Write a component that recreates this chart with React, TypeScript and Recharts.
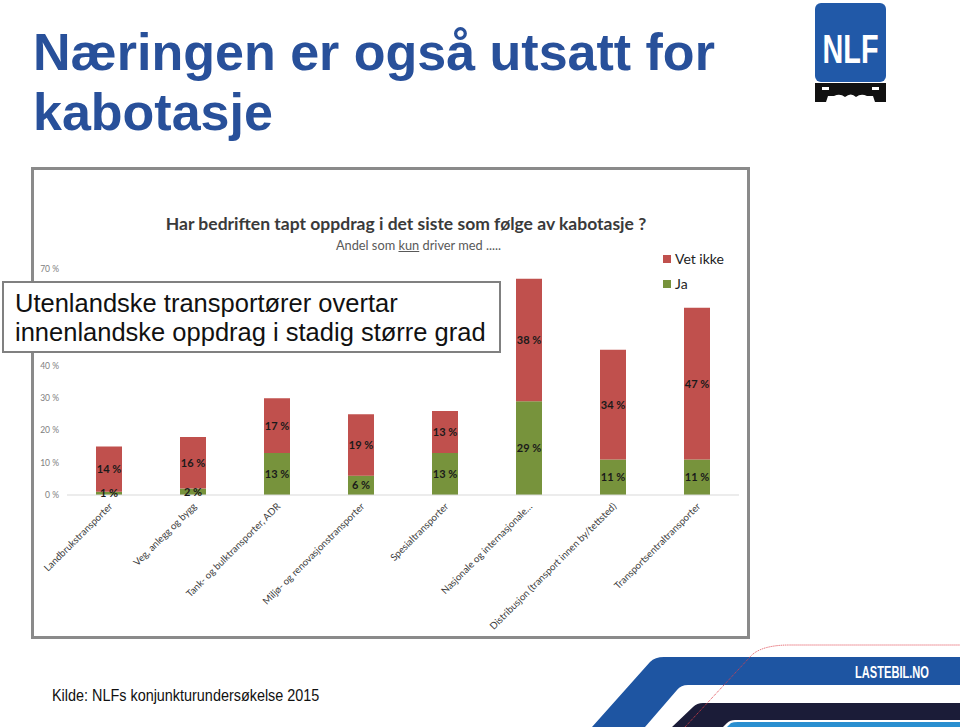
import { BarChart, Bar, XAxis, YAxis, Legend, LabelList } from 'recharts'

const categories = [
  'Landbrukstransporter',
  'Veg, anlegg og bygg',
  'Tank- og bulktransporter, ADR',
  'Miljø- og renovasjonstransporter',
  'Spesialtransporter',
  'Nasjonale og internasjonale…',
  'Distribusjon (transport innen by/tettsted)',
  'Transportsentraltransporter',
]
const ja = [1, 2, 13, 6, 13, 29, 11, 11]
const vetIkke = [14, 16, 17, 19, 13, 38, 34, 47]
// 50 % and 60 % sit behind the text box in the original, so only these show
const yTicks = [0, 10, 20, 30, 40, 70]

const data = categories.map((name, i) => ({ name, ja: ja[i], vetIkke: vetIkke[i] }))

const RED = '#C0504D'
const GREEN = '#77933C'
const CAL = 'Lato, "Open Sans", sans-serif'

const XTick = ({ x, y, payload }: any) => (
  <g transform={`translate(${x + 4},${y + 4})`}>
    <text textAnchor="end" transform="rotate(-45)" fontSize={9.7} fill="#3a3a3a" fontFamily={CAL}>
      {payload.value}
    </text>
  </g>
)

const YTick = ({ x, y, payload }: any) => (
  <text x={x} y={y} dy={3} textAnchor="end" fontSize={8.5} fill="#808080" fontFamily={CAL}>
    {payload.value} %
  </text>
)

// value labels centred in each stacked segment
const SegLabel = ({ x, y, width, height, value }: any) => (
  <text x={x + width / 2} y={y + height / 2} dy={4} textAnchor="middle" fontSize={11} fontWeight="bold" fill="#1a1a1a" fontFamily={CAL}>
    {value} %
  </text>
)

const LegendBox = () => (
  <div style={{ fontFamily: CAL, fontSize: 14, color: '#222' }}>
    {[['Vet ikke', RED], ['Ja', GREEN]].map(([t, c]) => (
      <div key={t} style={{ display: 'flex', alignItems: 'center', height: 25 }}>
        <span style={{ width: 8, height: 8, background: c, marginRight: 4, display: 'inline-block' }} />
        {t}
      </div>
    ))}
  </div>
)

function Logo() {
  return (
    <svg style={{ position: 'absolute', left: 815, top: 3 }} width={72} height={100}>
      <rect x={0} y={0} width={71} height={79} rx={6} fill="#2159A8" />
      <text x={35.5} y={60} textAnchor="middle" fontSize={40} fontWeight="bold" fill="#fff"
        fontFamily="Liberation Sans, Arial" textLength={56} lengthAdjust="spacingAndGlyphs">NLF</text>
      <path d="M0 80 H71 V99 H60 L58 93 H52 Q46 90 41 94 Q36 89 30 94 Q25 90 19 93 H13 L11 99 H0 Z" fill="#111" />
      <rect x={7} y={84} width={7} height={3} fill="#fff" />
      <rect x={57} y={84} width={7} height={3} fill="#fff" />
    </svg>
  )
}

function Footer() {
  return (
    <svg style={{ position: 'absolute', left: 0, top: 640 }} width={960} height={87}>
      <g transform="translate(0,-640)">
        <path d="M592 727 L650 662 Q655 657 664 657 H960 V685 H688 Q681 685 677 690 L645 727 Z" fill="#1E55A2" />
        <path d="M672 727 L693 707 Q697 703 703 703 H960 V720 H735 Q730 720 727 723 L723 727 Z" fill="#1B1C38" />
        <path d="M727 727 L731 723 Q733 722 738 722 H960 V727 Z" fill="#2A8FD0" />
        <path d="M685 727 L750 657 Q760 645 790 645 H960" fill="none" stroke="#E0404A" strokeWidth={1} strokeDasharray="1 1" />
        <text x={929} y={678} textAnchor="end" fontSize={16} fontWeight="bold" fill="#fff"
          fontFamily="Liberation Sans, Arial" textLength={74} lengthAdjust="spacingAndGlyphs">LASTEBIL.NO</text>
      </g>
    </svg>
  )
}

export default function App() {
  return (
    <div style={{ position: 'absolute', left: 0, top: 0, width: 960, height: 727, background: '#fff', overflow: 'hidden' }}>
      <div style={{ position: 'absolute', left: 33, top: 22, fontFamily: '"Liberation Sans", Arial', fontWeight: 'bold', fontSize: 52, lineHeight: '60px', color: '#28509A' }}>
        Næringen er også utsatt for<br />kabotasje
      </div>
      <Logo />

      <div style={{ position: 'absolute', left: 31, top: 167, width: 713, height: 466, border: '3px solid #8A8A8A', background: '#fff' }} />
      <div style={{ position: 'absolute', left: 31, top: 167 }}>
        <BarChart width={718} height={471} data={data} margin={{ top: 102, right: 10, left: 0, bottom: 0 }}>
          <XAxis dataKey="name" interval={0} height={143} tickLine={false} axisLine={{ stroke: '#D9D9D9' }} tick={<XTick />} />
          <YAxis width={36} domain={[0, 70]} ticks={yTicks} axisLine={false} tickLine={false} tick={<YTick />} />
          <Legend verticalAlign="middle" align="center" layout="horizontal" content={<LegendBox />}
            wrapperStyle={{ position: 'absolute', top: 79, left: 632, width: 90 }} />
          <Bar dataKey="ja" name="Ja" stackId="a" fill={GREEN} barSize={26} isAnimationActive={false}>
            <LabelList dataKey="ja" content={<SegLabel />} />
          </Bar>
          <Bar dataKey="vetIkke" name="Vet ikke" stackId="a" fill={RED} barSize={26} isAnimationActive={false}>
            <LabelList dataKey="vetIkke" content={<SegLabel />} />
          </Bar>
        </BarChart>
      </div>
      <div style={{ position: 'absolute', left: 31, width: 750, top: 213, textAlign: 'center', fontFamily: CAL, fontWeight: 'bold', fontSize: 17.5, color: '#3a3a3a' }}>
        Har bedriften tapt oppdrag i det siste som følge av kabotasje ?
      </div>
      <div style={{ position: 'absolute', left: 31, width: 775, top: 237, textAlign: 'center', fontFamily: CAL, fontSize: 12.8, color: '#595959' }}>
        Andel som <u>kun</u> driver med .....
      </div>

      <div style={{ position: 'absolute', left: 2, top: 281, width: 484, height: 62, border: '2.5px solid #808080', background: '#fff', padding: '6px 0 0 11px', boxSizing: 'content-box', fontFamily: '"Liberation Sans", Arial', fontSize: 25.5, lineHeight: '29px', color: '#111', whiteSpace: 'nowrap' }}>
        Utenlandske transportører overtar<br />innenlandske oppdrag i stadig større grad
      </div>

      <Footer />
      <div style={{ position: 'absolute', left: 52, top: 687, fontFamily: '"Liberation Sans", Arial', fontSize: 16, color: '#111', transform: 'scaleX(0.9)', transformOrigin: 'left top', whiteSpace: 'nowrap' }}>
        Kilde: NLFs konjunkturundersøkelse 2015
      </div>
    </div>
  )
}
